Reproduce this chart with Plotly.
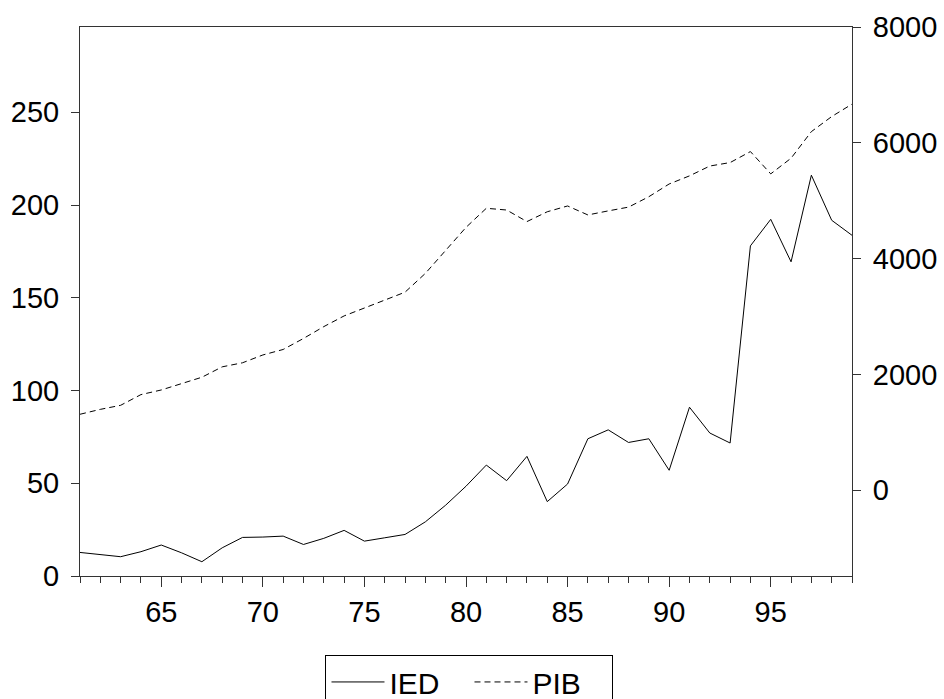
import plotly.graph_objects as go

years = [61, 62, 63, 64, 65, 66, 67, 68, 69, 70,
         71, 72, 73, 74, 75, 76, 77, 78, 79, 80,
         81, 82, 83, 84, 85, 86, 87, 88, 89, 90,
         91, 92, 93, 94, 95, 96, 97, 98, 99]

ied = [12.7, 11.6, 10.4, 13.1, 16.7, 12.5, 7.7, 15.2, 20.8, 21.0,
       21.5, 17.0, 20.3, 24.6, 18.8, 20.6, 22.4, 29.2, 38.2, 48.4,
       59.8, 51.4, 64.5, 40.1, 49.6, 74.0, 78.8, 72.0, 74.0, 57.0,
       91.0, 77.1, 71.7, 178.0, 192.3, 169.4, 216.1, 191.8, 183.7]

pib = [1310, 1395, 1465, 1650, 1730, 1835, 1950, 2130, 2200, 2335,
       2430, 2620, 2825, 3010, 3150, 3285, 3420, 3745, 4150, 4540,
       4870, 4840, 4640, 4810, 4910, 4755, 4825, 4890, 5070, 5290,
       5430, 5600, 5660, 5850, 5465, 5735, 6195, 6455, 6670]

left_ticks = [0, 50, 100, 150, 200, 250]
right_ticks = [0, 2000, 4000, 6000, 8000]
x_ticks = [65, 70, 75, 80, 85, 90, 95]

FONT = "Liberation Sans, Arial, sans-serif"
AX = "#333333"

fig = go.Figure()
fig.add_trace(go.Scatter(x=years, y=ied, name="IED", mode="lines",
                         line=dict(color="black", width=1)))
fig.add_trace(go.Scatter(x=years, y=pib, name="PIB", mode="lines", yaxis="y2",
                         line=dict(color="black", width=1, dash="6px,4px")))

fig.update_layout(
    width=944, height=699,
    margin=dict(l=80, r=92, t=27, b=123, autoexpand=False),
    paper_bgcolor="white", plot_bgcolor="white",
    font=dict(family=FONT, size=29, color="black"),
    xaxis=dict(range=[61, 99], tickvals=x_ticks, ticks="outside", ticklen=10,
               tickcolor=AX, minor=dict(dtick=1, tick0=61, ticks="outside", ticklen=6, tickcolor=AX),
               showline=True, linecolor=AX, linewidth=1, mirror=True,
               showgrid=False, zeroline=False, tickfont=dict(size=29)),
    yaxis=dict(range=[0, 296], tickvals=left_ticks, ticks="outside", ticklen=8,
               tickcolor=AX, showline=True, linecolor=AX, linewidth=1,
               showgrid=False, zeroline=False, ticklabelstandoff=6,
               tickfont=dict(size=29)),
    yaxis2=dict(range=[-1485, 8003], tickvals=right_ticks, overlaying="y", side="right",
                ticks="outside", ticklen=8, tickcolor=AX, showline=True, linecolor=AX,
                linewidth=1, showgrid=False, zeroline=False, ticklabelstandoff=6,
                tickfont=dict(size=29)),
    legend=dict(orientation="h", x=0.318, y=-0.1438, xanchor="left", yanchor="top",
                bordercolor="black", borderwidth=1, font=dict(size=30),
                bgcolor="white", itemwidth=53, entrywidth=75, entrywidthmode="pixels"),
    showlegend=True,
)

fig.write_html("out.html")
